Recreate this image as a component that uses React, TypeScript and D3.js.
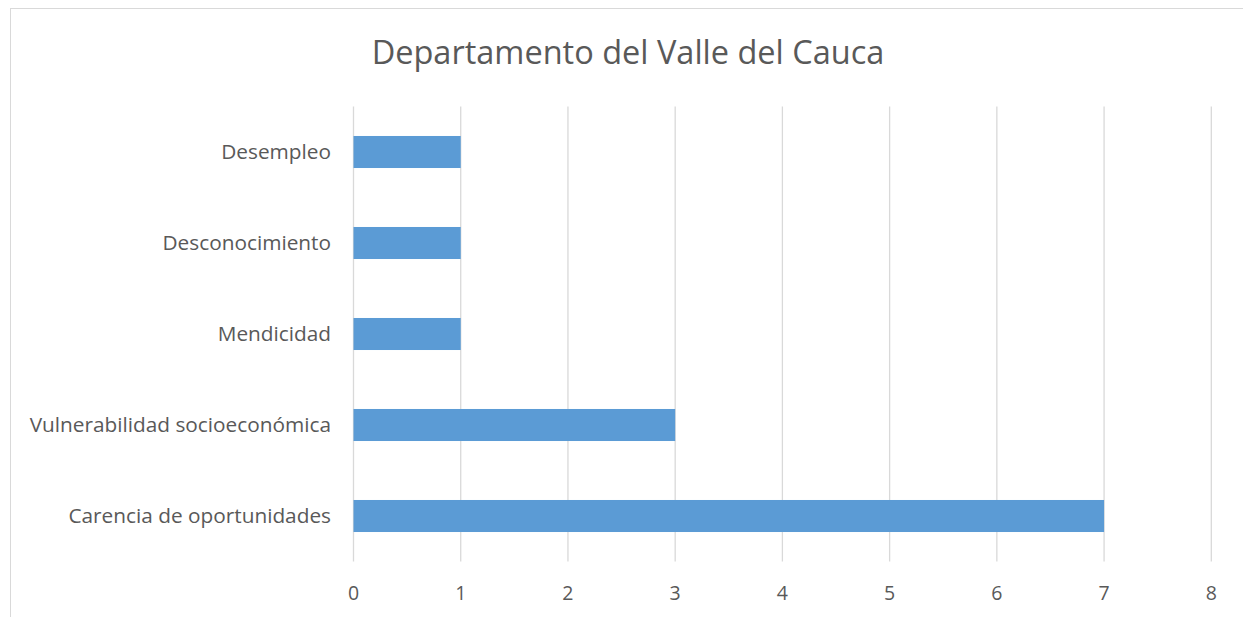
import React from "react";
import * as d3 from "d3";

const title = "Departamento del Valle del Cauca";
const categories = [
  "Desempleo",
  "Desconocimiento",
  "Mendicidad",
  "Vulnerabilidad socioeconómica",
  "Carencia de oportunidades",
];
const values = [1, 1, 1, 3, 7];
const xTicks = [0, 1, 2, 3, 4, 5, 6, 7, 8];

const W = 1243;
const H = 617;
const plotLeft = 353.5;
const plotRight = 1211.3;
const plotTop = 106.5;
const plotBottom = 561.5;
const font = "'Open Sans', sans-serif";
const textColor = "#595959";

export default function App() {
  const x = d3.scaleLinear().domain([0, 8]).range([plotLeft, plotRight]);
  const y = d3
    .scaleBand<string>()
    .domain(categories)
    .range([plotTop, plotBottom])
    .paddingInner(0.648)
    .paddingOuter(0.324);

  return (
    <svg
      width={W}
      height={H}
      style={{ position: "absolute", left: 0, top: 0, background: "#fff" }}
    >
      <rect x={0} y={0} width={W} height={H} fill="#fff" />
      <rect
        x={10.5}
        y={8.5}
        width={W + 20}
        height={H + 20}
        fill="#fff"
        stroke="#D9D9D9"
        strokeWidth={1}
      />
      <text
        x={628}
        y={64}
        textAnchor="middle"
        fontFamily={font}
        fontSize={32.5}
        fill={textColor}
      >
        {title}
      </text>
      {xTicks.map((t) => (
        <g key={t}>
          <line
            x1={x(t)}
            x2={x(t)}
            y1={plotTop}
            y2={plotBottom}
            stroke="#D9D9D9"
            strokeWidth={1.3}
          />
          <text
            x={x(t)}
            y={600}
            textAnchor="middle"
            fontFamily={font}
            fontSize={19.5}
            fill={textColor}
          >
            {t}
          </text>
        </g>
      ))}
      {categories.map((c, i) => (
        <g key={c}>
          <rect
            x={x(0)}
            y={y(c)!}
            width={x(values[i]) - x(0)}
            height={y.bandwidth()}
            fill="#5B9BD5"
          />
          <text
            x={331}
            y={y(c)! + y.bandwidth() / 2}
            dy="0.35em"
            textAnchor="end"
            fontFamily={font}
            fontSize={20.8}
            fill={textColor}
          >
            {c}
          </text>
        </g>
      ))}
    </svg>
  );
}
